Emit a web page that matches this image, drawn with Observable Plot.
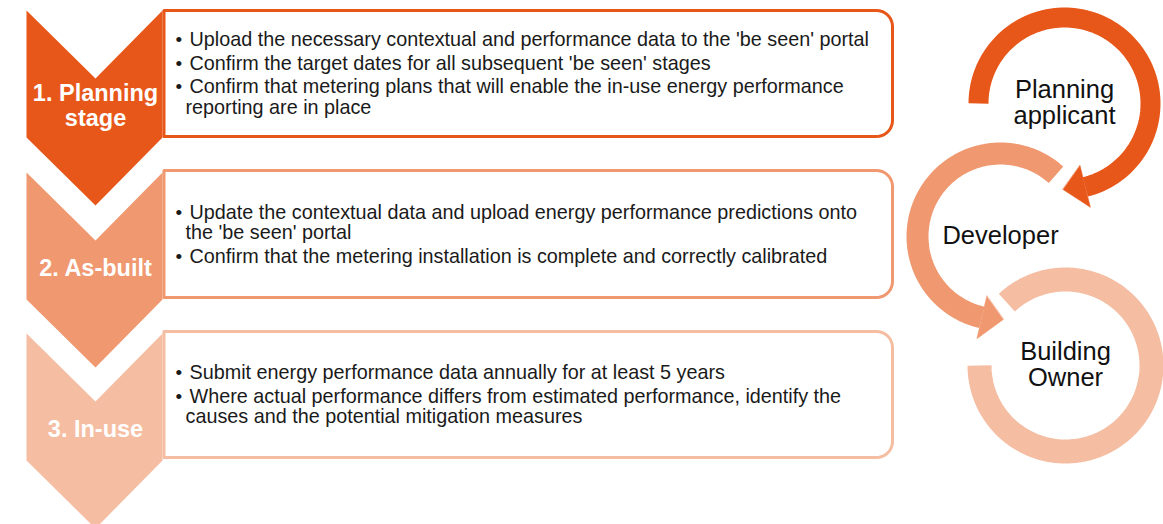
<!DOCTYPE html>
<html><head><meta charset="utf-8">
<script src="https://cdn.jsdelivr.net/npm/d3@7"></script>
<script src="https://cdn.jsdelivr.net/npm/@observablehq/plot@0.6"></script>
<style>html,body{margin:0;padding:0;background:#fff;overflow:hidden;}</style>
</head><body><div id="chart"></div>
<script>
// ---- data ----
const stages = ["1. Planning\nstage", "2. As-built", "3. In-use"];
const stageBullets = [
  ["Upload the necessary contextual and performance data to the 'be seen' portal",
   "Confirm the target dates for all subsequent 'be seen' stages",
   "Confirm that metering plans that will enable the in-use energy performance\nreporting are in place"],
  ["Update the contextual data and upload energy performance predictions onto\nthe 'be seen' portal",
   "Confirm that the metering installation is complete and correctly calibrated"],
  ["Submit energy performance data annually for at least 5 years",
   "Where actual performance differs from estimated performance, identify the\ncauses and the potential mitigation measures"]
];
const roles = ["Planning\napplicant", "Developer", "Building\nOwner"];
const palette = ["#E8571A", "#F09870", "#F5BDA2"];

// ---- layout (code, not data) ----
const W = 1163, H = 524;
const chevTops = [10, 172, 333];
const boxTops = [10, 170, 331], boxBottoms = [136, 297, 457];
const chevL = 26, chevR = 162, chevMid = 95, notch = 68, side = 127, tip = 195;
const boxL = 163.5, boxR = 892, boxRad = 16;

const marks = [];
const P = (x, y) => ({x, y});

// boxes with rounded right corners
stages.forEach((s, i) => {
  const y0 = boxTops[i], y1 = boxBottoms[i];
  const pts = [P(boxL, y0), P(boxR - boxRad, y0)];
  for (let a = -90; a <= 0; a += 10) pts.push(P(boxR - boxRad + boxRad * Math.cos(a * Math.PI / 180), y0 + boxRad + boxRad * Math.sin(a * Math.PI / 180)));
  for (let a = 0; a <= 90; a += 10) pts.push(P(boxR - boxRad + boxRad * Math.cos(a * Math.PI / 180), y1 - boxRad + boxRad * Math.sin(a * Math.PI / 180)));
  pts.push(P(boxL, y1));
  marks.push(Plot.line(pts, {x: "x", y: "y", curve: "linear-closed", fill: "white", stroke: palette[i], strokeWidth: 3}));
});

// chevrons
stages.forEach((s, i) => {
  const t = chevTops[i];
  const pts = [P(chevL, t), P(chevMid, t + notch), P(chevR, t), P(chevR, t + side), P(chevMid, t + tip), P(chevL, t + side)];
  marks.push(Plot.line(pts, {x: "x", y: "y", curve: "linear-closed", fill: palette[i], stroke: "none"}));
});

// stage labels
const stageText = [];
stages.forEach((s, i) => {
  const lines = s.split("\n");
  const mid = chevTops[i] + 103;
  lines.forEach((l, j) => stageText.push({x: chevMid, y: mid + (j - (lines.length - 1) / 2) * 25, text: l}));
});
marks.push(Plot.text(stageText, {x: "x", y: "y", text: "text", lineAnchor: "bottom", textAnchor: "middle", fill: "white", fontSize: 23.5, fontWeight: "bold"}));

// bullets
const bulletText = [], bulletDots = [];
stageBullets.forEach((items, i) => {
  const lines = [];
  let off = 0;
  items.forEach((it, k) => {
    if (k > 0) off += 23.5;
    it.split("\n").forEach((l, j) => {
      if (j > 0) off += 20.5;
      lines.push({off, text: l, first: j === 0});
    });
  });
  const center = (boxTops[i] + boxBottoms[i]) / 2 + 6.5;
  const base = center - off / 2;
  lines.forEach(l => {
    if (l.first) bulletDots.push({x: 175, y: base + l.off, text: "•"});
    bulletText.push({x: l.first ? 189 : 185, y: base + l.off, text: l.text});
  });
});
marks.push(Plot.text(bulletDots, {x: "x", y: "y", text: "text", lineAnchor: "bottom", textAnchor: "start", fill: "#1a1a1a", fontSize: 19}));
marks.push(Plot.text(bulletText, {x: "x", y: "y", text: "text", lineAnchor: "bottom", textAnchor: "start", fill: "#1a1a1a", fontSize: 19.8}));

// rings
const rings = [
  {cx: 1064, cy: 103, r: 86, w: 20, a0: 180, a1: 436, arrow: {base: 436, tip: 451, rin: 64, rout: 107}},
  {cx: 1000, cy: 236, r: 83, w: 22, a0: -48, a1: -257, arrow: {base: -257, tip: -272, rin: 61, rout: 105}},
  {cx: 1065, cy: 365, r: 86, w: 24, a0: 180, a1: -133, arrow: null}
];
const rad = a => a * Math.PI / 180;
const roleText = [];
rings.forEach((g, i) => {
  const n = Math.ceil(Math.abs(g.a1 - g.a0) / 2);
  const pts = d3.range(n + 1).map(k => {
    const a = g.a0 + (g.a1 - g.a0) * k / n;
    return P(g.cx + g.r * Math.cos(rad(a)), g.cy + g.r * Math.sin(rad(a)));
  });
  marks.push(Plot.line(pts, {x: "x", y: "y", stroke: palette[i], strokeWidth: g.w, strokeLinecap: "butt", strokeLinejoin: "round"}));
  if (g.arrow) {
    const A = g.arrow;
    const head = [
      P(g.cx + A.rin * Math.cos(rad(A.base)), g.cy + A.rin * Math.sin(rad(A.base))),
      P(g.cx + A.rout * Math.cos(rad(A.base)), g.cy + A.rout * Math.sin(rad(A.base))),
      P(g.cx + g.r * Math.cos(rad(A.tip)), g.cy + g.r * Math.sin(rad(A.tip)))
    ];
    marks.push(Plot.line(head, {x: "x", y: "y", curve: "linear-closed", fill: palette[i], stroke: palette[i], strokeWidth: 0.5}));
  }
  const lines = roles[i].split("\n");
  lines.forEach((l, j) => roleText.push({x: g.cx, y: g.cy + 7 + (j - (lines.length - 1) / 2) * 26, text: l}));
});
marks.push(Plot.text(roleText, {x: "x", y: "y", text: "text", lineAnchor: "bottom", textAnchor: "middle", fill: "#111", fontSize: 25.5}));

const chart = Plot.plot({
  width: W, height: H, margin: 0,
  x: {domain: [0, W], range: [0, W], axis: null},
  y: {domain: [0, H], range: [0, H], axis: null},
  style: {fontFamily: "'Liberation Sans', Arial, sans-serif", background: "white", overflow: "hidden"},
  marks
});
document.getElementById("chart").appendChild(chart);
</script>
</body></html>
